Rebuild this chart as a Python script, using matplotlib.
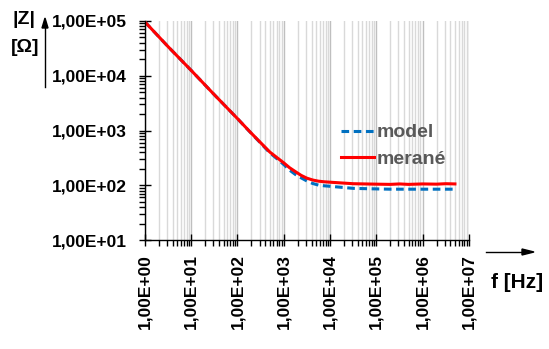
import numpy as np
import matplotlib.pyplot as plt
from matplotlib.ticker import LogLocator, FixedLocator, NullFormatter

plt.rcParams['font.family'] = ['Liberation Sans', 'DejaVu Sans']
plt.rcParams['font.weight'] = 'bold'

# impedance vs. frequency
f = [1, 3.16, 10, 31.6, 100, 178, 316, 500, 750, 1000, 1330, 1780, 2370, 3160, 4220,
     5620, 7500, 1e4, 3.16e4, 1e5, 2e5, 3.16e5, 5e5, 1e6, 2e6, 3.16e6, 5e6]
z_model = [9.6e4, 3.4e4, 1.25e4, 4.5e3, 1.65e3, 980, 590, 392, 295, 240, 190, 158,
           137, 120, 108, 101, 98, 96, 88, 86, 85, 85, 85, 85, 85, 85, 85]
z_meas = [9.6e4, 3.4e4, 1.25e4, 4.5e3, 1.65e3, 985, 600, 405, 310, 257, 210, 178,
          152, 135, 125, 119, 116, 114, 107, 105, 104, 106, 104, 106, 105, 107, 106]

yticks = [1e1, 1e2, 1e3, 1e4, 1e5]
xticks = [1e0, 1e1, 1e2, 1e3, 1e4, 1e5, 1e6, 1e7]

fig = plt.figure(figsize=(5.49, 3.49), dpi=100)
ax = fig.add_axes([0.264, 0.312, 0.59, 0.628])

ax.plot(f, z_model, color='#0070c0', lw=2.2, ls=(0, (2.5, 1.5)), label='model')
ax.plot(f, z_meas, color='#ff0000', lw=2.2, label='merané')

ax.set_xscale('log')
ax.set_yscale('log')
ax.set_xlim(1, 1e7)
ax.set_ylim(10, 1e5)

ax.xaxis.set_major_locator(FixedLocator(xticks))
ax.yaxis.set_major_locator(FixedLocator(yticks))
ax.xaxis.set_minor_locator(LogLocator(base=10, subs=np.arange(2, 10), numticks=20))
ax.yaxis.set_minor_locator(LogLocator(base=10, subs=np.arange(2, 10), numticks=20))
ax.xaxis.set_minor_formatter(NullFormatter())
ax.yaxis.set_minor_formatter(NullFormatter())
ax.set_xticklabels(['1,00E+%02d' % int(np.log10(v)) for v in xticks], rotation=90)
ax.set_yticklabels(['1,00E+%02d' % int(np.log10(v)) for v in yticks])

ax.tick_params(which='major', direction='inout', length=8, width=1, labelsize=12.5)
ax.tick_params(axis='y', which='major', pad=9)
ax.tick_params(axis='x', which='major', pad=6)
ax.tick_params(which='minor', direction='out', length=4, width=1)

ax.grid(True, which='major', axis='x', color='#bfbfbf', lw=1)
ax.grid(True, which='minor', axis='x', color='#d9d9d9', lw=1)
ax.set_axisbelow(True)

for s in ['top', 'right']:
    ax.spines[s].set_visible(False)
for s in ['left', 'bottom']:
    ax.spines[s].set_linewidth(1)

leg = ax.legend(loc='center left', bbox_to_anchor=(0.605, 0.43), frameon=False,
                borderaxespad=0, borderpad=0, handlelength=1.7,
                handletextpad=0.15, labelspacing=0.45, fontsize=14)
for t in leg.get_texts():
    t.set_color('#595959')

# axis labels with arrows
fig.text(24 / 549, 1 - 19 / 349, '|Z|', fontsize=14, ha='center', va='center')
fig.text(25 / 549, 1 - 47 / 349, '[Ω]', fontsize=14, ha='center', va='center')
fig.add_artist(plt.Line2D([45 / 549, 45 / 549], [1 - 87 / 349, 1 - 26 / 349],
                          color='black', lw=1))
fig.patches.append(plt.Polygon([[42 / 549, 1 - 28 / 349], [48 / 549, 1 - 28 / 349],
                                [45 / 549, 1 - 18 / 349]],
                               closed=True, color='black', transform=fig.transFigure))
fig.add_artist(plt.Line2D([486 / 549, 525 / 549], [1 - 252 / 349, 1 - 252 / 349],
                          color='black', lw=1))
fig.patches.append(plt.Polygon([[522 / 549, 1 - 249 / 349], [522 / 549, 1 - 255 / 349],
                                [534 / 549, 1 - 252 / 349]],
                               closed=True, color='black', transform=fig.transFigure))
fig.text(517 / 549, 1 - 282 / 349, 'f [Hz]', fontsize=15, ha='center', va='center')

fig.savefig('out.png', dpi=100)
